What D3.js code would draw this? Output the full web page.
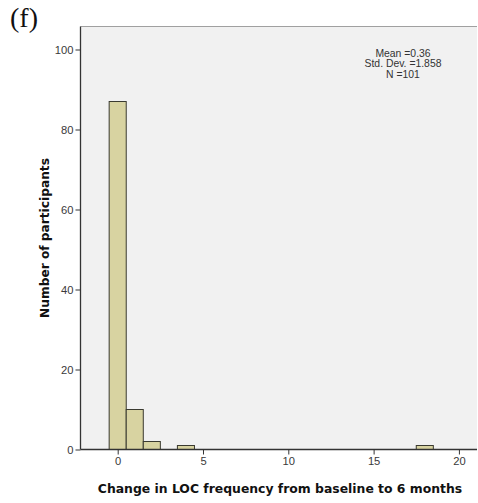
<!DOCTYPE html>
<html>
<head>
<meta charset="utf-8">
<script src="https://cdn.jsdelivr.net/npm/d3@7"></script>
<style>
  html, body { margin: 0; padding: 0; background: #fff; }
  svg { display: block; }
</style>
</head>
<body>
<svg id="chart" width="478" height="503"></svg>
<script>
// Data
const binCenters = [0, 1, 2, 4, 18];
const binCounts = [87, 10, 2, 1, 1];
const binWidth = 1;
const xTicks = [0, 5, 10, 15, 20];
const yTicks = [0, 20, 40, 60, 80, 100];
const statsLines = ["Mean =0.36", "Std. Dev. =1.858", "N =101"];
const panelLabel = "(f)";
const xLabel = "Change in LOC frequency from baseline to 6 months";
const yLabel = "Number of participants";

const svg = d3.select("#chart");
const plot = { left: 80.5, right: 477, top: 26.5, bottom: 449.5 };

const x = d3.scaleLinear().domain([-2.18, 21.06]).range([plot.left, plot.right]);
const y = d3.scaleLinear().domain([0, 100]).range([449.5, 49.5]);

// Plot background
svg.append("rect")
  .attr("x", plot.left).attr("y", plot.top)
  .attr("width", plot.right - plot.left).attr("height", plot.bottom - plot.top)
  .attr("fill", "#f1f1f1");
// top border
svg.append("line")
  .attr("x1", plot.left).attr("x2", plot.right)
  .attr("y1", plot.top).attr("y2", plot.top)
  .attr("stroke", "#a0a0a0").attr("stroke-width", 1);

// Bars
svg.append("g").selectAll("rect")
  .data(binCenters.map((c, i) => ({ c, n: binCounts[i] })))
  .join("rect")
  .attr("x", d => x(d.c - binWidth / 2))
  .attr("width", d => x(d.c + binWidth / 2) - x(d.c - binWidth / 2))
  .attr("y", d => y(d.n))
  .attr("height", d => y(0) - y(d.n))
  .attr("fill", "#d8d3a1")
  .attr("stroke", "#3a3a30")
  .attr("stroke-width", 1);

// Axes
const xAxis = d3.axisBottom(x).tickValues(xTicks).tickSize(5).tickSizeOuter(0).tickPadding(3);
const gx = svg.append("g").attr("transform", `translate(0,${plot.bottom})`).call(xAxis);
gx.select(".domain").attr("d", `M${plot.left},0H${plot.right}`);

const yAxis = d3.axisLeft(y).tickValues(yTicks).tickSize(5).tickSizeOuter(0).tickPadding(2);
const gy = svg.append("g").attr("transform", `translate(${plot.left},0)`).call(yAxis);
gy.select(".domain").attr("d", `M0,${plot.top}V${plot.bottom}`);

[gx, gy].forEach(g => {
  g.selectAll(".domain").attr("stroke", "#333").attr("stroke-width", 1.3);
  g.selectAll(".tick line").attr("stroke", "#333");
  g.selectAll(".tick text")
    .attr("fill", "#3a3a3a")
    .attr("font-family", "Liberation Sans, Arial, sans-serif")
    .attr("font-size", 11.2);
});

// Axis titles
svg.append("text")
  .attr("x", 280).attr("y", 493)
  .attr("text-anchor", "middle")
  .attr("font-family", "DejaVu Sans, Verdana, sans-serif")
  .attr("font-weight", "bold")
  .attr("font-size", 12.4)
  .attr("fill", "#111")
  .text(xLabel);

svg.append("text")
  .attr("transform", "translate(49,238) rotate(-90)")
  .attr("text-anchor", "middle")
  .attr("font-family", "DejaVu Sans, Verdana, sans-serif")
  .attr("font-weight", "bold")
  .attr("font-size", 12.2)
  .attr("fill", "#111")
  .text(yLabel);

// Stats box text
svg.append("g").selectAll("text")
  .data(statsLines)
  .join("text")
  .attr("x", 403)
  .attr("y", (d, i) => 57 + i * 10.4)
  .attr("text-anchor", "middle")
  .attr("font-family", "Liberation Sans, Arial, sans-serif")
  .attr("font-size", 10.4)
  .attr("fill", "#333")
  .text(d => d);

// Panel label
svg.append("text")
  .attr("x", 10).attr("y", 27)
  .attr("font-family", "Liberation Serif, Times New Roman, serif")
  .attr("font-size", 28)
  .attr("fill", "#111")
  .text(panelLabel);
</script>
</body>
</html>
